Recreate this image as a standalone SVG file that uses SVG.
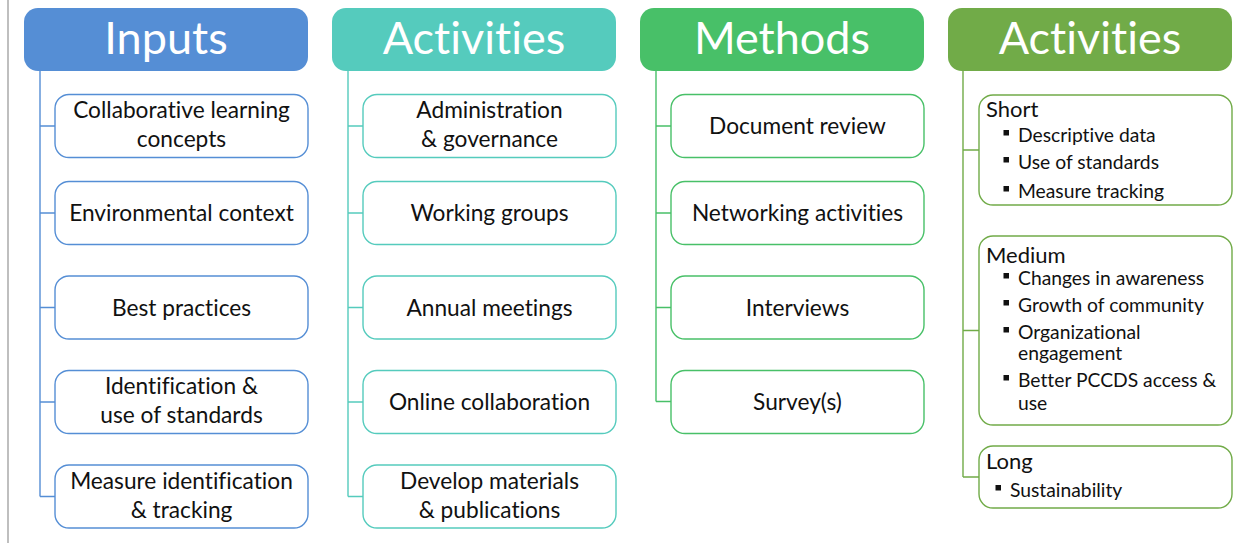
<svg xmlns="http://www.w3.org/2000/svg" width="1250" height="543" viewBox="0 0 1250 543">
  <style>
    text { font-family: Lato, "Open Sans", "Liberation Sans", sans-serif; fill: #111; font-variant-ligatures: none; font-feature-settings: "liga" 0, "dlig" 0; }
    .head { font-size: 45px; fill: #fff; text-anchor: middle; }
    .item { font-size: 22.7px; text-anchor: middle; }
    .sub { font-size: 22px; }
    .bul { font-size: 19.3px; }
    .box { fill: #fff; stroke-width: 1.4; }
    .blue { stroke: #558ed5; }
    .teal { stroke: #55cbbd; }
    .green { stroke: #48c068; }
    .olive { stroke: #71ab48; }
    .wire { fill: none; stroke-width: 1.4; }
    .dot { fill: #111; }
  </style>

  <!-- page edge rule -->
  <line x1="8" y1="0" x2="8" y2="543" stroke="#bfbfbf" stroke-width="2"/>

  <!-- connectors: trunk from each header plus branches to its items -->
  <g id="connectors">
    <path class="wire blue" d="M40 71V496.5 M40 126H55 M40 213H55 M40 307.5H55 M40 402H55 M40 496.5H55"/>
    <path class="wire teal" d="M348 71V496.5 M348 126H363 M348 213H363 M348 307.5H363 M348 402H363 M348 496.5H363"/>
    <path class="wire green" d="M656 71V401.5 M656 126H671 M656 213H671 M656 307.5H671 M656 401.5H671"/>
    <path class="wire olive" d="M963 71V477 M963 150H979 M963 330.5H979 M963 477H979"/>
  </g>

  <!-- column headers -->
  <g id="hdr-inputs">
    <rect x="24" y="8" width="284" height="63" rx="14" fill="#558ed5"/>
    <text class="head" x="166" y="54">Inputs</text>
  </g>
  <g id="hdr-activities">
    <rect x="332" y="8" width="284" height="63" rx="14" fill="#55cbbd"/>
    <text class="head" x="474" y="54">Activities</text>
  </g>
  <g id="hdr-methods">
    <rect x="640" y="8" width="284" height="63" rx="14" fill="#48c068"/>
    <text class="head" x="782" y="54">Methods</text>
  </g>
  <g id="hdr-outcomes">
    <rect x="948" y="8" width="284" height="63" rx="14" fill="#71ab48"/>
    <text class="head" x="1090" y="54">Activities</text>
  </g>

  <!-- Inputs -->
  <g id="in-1">
    <rect class="box blue" x="55" y="94.5" width="253" height="63" rx="14"/>
    <text class="item" x="181.5" y="118">Collaborative learning</text>
    <text class="item" x="181.5" y="147">concepts</text>
  </g>
  <g id="in-2">
    <rect class="box blue" x="55" y="181.5" width="253" height="63" rx="14"/>
    <text class="item" x="181.5" y="221">Environmental context</text>
  </g>
  <g id="in-3">
    <rect class="box blue" x="55" y="276" width="253" height="63" rx="14"/>
    <text class="item" x="181.5" y="315.5">Best practices</text>
  </g>
  <g id="in-4">
    <rect class="box blue" x="55" y="370.5" width="253" height="63" rx="14"/>
    <text class="item" x="181.5" y="394">Identification &amp;</text>
    <text class="item" x="181.5" y="423">use of standards</text>
  </g>
  <g id="in-5">
    <rect class="box blue" x="55" y="465" width="253" height="63" rx="14"/>
    <text class="item" x="181.5" y="488.5">Measure identification</text>
    <text class="item" x="181.5" y="517.5">&amp; tracking</text>
  </g>

  <!-- Activities -->
  <g id="act-1">
    <rect class="box teal" x="363" y="94.5" width="253" height="63" rx="14"/>
    <text class="item" x="489.5" y="118">Administration</text>
    <text class="item" x="489.5" y="147">&amp; governance</text>
  </g>
  <g id="act-2">
    <rect class="box teal" x="363" y="181.5" width="253" height="63" rx="14"/>
    <text class="item" x="489.5" y="221">Working groups</text>
  </g>
  <g id="act-3">
    <rect class="box teal" x="363" y="276" width="253" height="63" rx="14"/>
    <text class="item" x="489.5" y="315.5">Annual meetings</text>
  </g>
  <g id="act-4">
    <rect class="box teal" x="363" y="370.5" width="253" height="63" rx="14"/>
    <text class="item" x="489.5" y="410">Online collaboration</text>
  </g>
  <g id="act-5">
    <rect class="box teal" x="363" y="465" width="253" height="63" rx="14"/>
    <text class="item" x="489.5" y="488.5">Develop materials</text>
    <text class="item" x="489.5" y="517.5">&amp; publications</text>
  </g>

  <!-- Methods -->
  <g id="meth-1">
    <rect class="box green" x="671" y="94.5" width="253" height="63" rx="14"/>
    <text class="item" x="797.5" y="134">Document review</text>
  </g>
  <g id="meth-2">
    <rect class="box green" x="671" y="181.5" width="253" height="63" rx="14"/>
    <text class="item" x="797.5" y="221">Networking activities</text>
  </g>
  <g id="meth-3">
    <rect class="box green" x="671" y="276" width="253" height="63" rx="14"/>
    <text class="item" x="797.5" y="315.5">Interviews</text>
  </g>
  <g id="meth-4">
    <rect class="box green" x="671" y="370.5" width="253" height="63" rx="14"/>
    <text class="item" x="797.5" y="410">Survey(s)</text>
  </g>

  <!-- Outcomes -->
  <g id="out-short">
    <rect class="box olive" x="979" y="95" width="253" height="110" rx="14"/>
    <text class="sub" x="986" y="117">Short</text>
    <rect class="dot" x="1003.5" y="130" width="5.5" height="5.5"/>
    <text class="bul" x="1018" y="142">Descriptive data</text>
    <rect class="dot" x="1003.5" y="157" width="5.5" height="5.5"/>
    <text class="bul" x="1018" y="169">Use of standards</text>
    <rect class="dot" x="1003.5" y="186" width="5.5" height="5.5"/>
    <text class="bul" x="1018" y="198">Measure tracking</text>
  </g>
  <g id="out-medium">
    <rect class="box olive" x="979" y="236" width="253" height="189" rx="14"/>
    <text class="sub" x="986" y="263">Medium</text>
    <rect class="dot" x="1003.5" y="273" width="5.5" height="5.5"/>
    <text class="bul" x="1018" y="285">Changes in awareness</text>
    <rect class="dot" x="1003.5" y="300" width="5.5" height="5.5"/>
    <text class="bul" x="1018" y="312">Growth of community</text>
    <rect class="dot" x="1003.5" y="327" width="5.5" height="5.5"/>
    <text class="bul" x="1018" y="339">Organizational</text>
    <text class="bul" x="1018" y="360">engagement</text>
    <rect class="dot" x="1003.5" y="375" width="5.5" height="5.5"/>
    <text class="bul" x="1018" y="387">Better PCCDS access &amp;</text>
    <text class="bul" x="1018" y="410">use</text>
  </g>
  <g id="out-long">
    <rect class="box olive" x="979" y="446" width="253" height="62" rx="14"/>
    <text class="sub" x="986" y="469">Long</text>
    <rect class="dot" x="995.5" y="485" width="5.5" height="5.5"/>
    <text class="bul" x="1010" y="497">Sustainability</text>
  </g>
</svg>
